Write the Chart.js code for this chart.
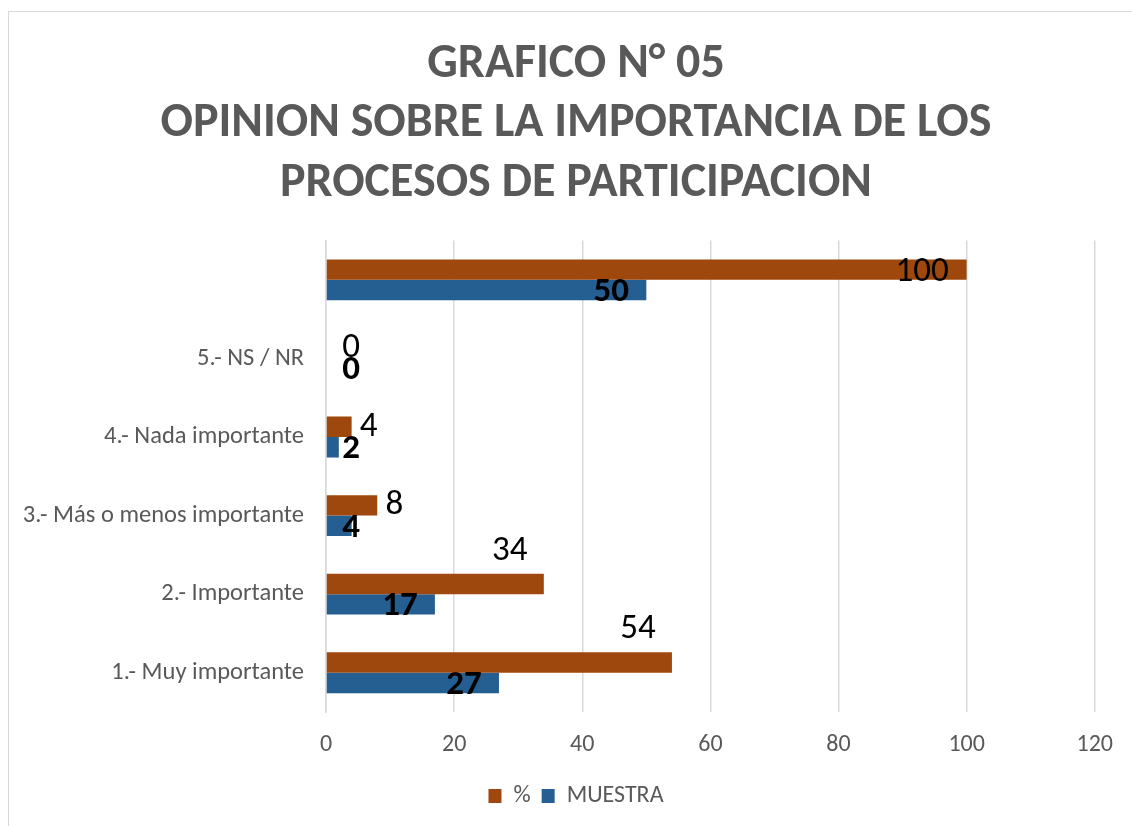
<!DOCTYPE html>
<html>
<head>
<meta charset="utf-8">
<script src="https://cdn.jsdelivr.net/npm/chart.js@4"></script>
<style>
  body { margin: 0; background: #fff; }
  #frame { position: absolute; left: 8px; top: 11px; width: 1140px; height: 830px; border: 1px solid #d9d9d9; }
  #wrap { position: absolute; left: 0; top: 0; width: 1132px; height: 826px; }
</style>
</head>
<body>
<div id="frame"></div>
<div id="wrap"><canvas id="chart"></canvas></div>
<script>
// datos del gráfico
const categorias = ['', '5.- NS / NR', '4.- Nada importante', '3.- Más o menos importante', '2.- Importante', '1.- Muy importante'];
const porcentaje = [100, 0, 4, 8, 34, 54];
const muestra = [50, 0, 2, 4, 17, 27];
const ticksX = [0, 20, 40, 60, 80, 100, 120];

const FONT = 'Carlito, "Liberation Sans Narrow", "DejaVu Sans Condensed", sans-serif';
const GRIS = '#595959';

// etiquetas de datos dibujadas a mano (sin plugin externo)
const etiquetas = {
    id: 'etiquetas',
    afterDatasetsDraw(chart) {
        const ctx = chart.ctx;
        const area = chart.chartArea;
        ctx.save();
        ctx.fillStyle = '#000';
        ctx.textBaseline = 'middle';
        chart.data.datasets.forEach((ds, i) => {
            const meta = chart.getDatasetMeta(i);
            meta.data.forEach((el, j) => {
                const v = ds.data[j];
                const largo = el.x - area.left > 100;
                let x, y;
                ctx.textAlign = 'center';
                if (i === 0) {
                    ctx.font = 'normal 35px ' + FONT;
                    if (!largo) {
                        x = Math.max(el.x + 17, area.left + 25);
                        y = el.y;
                    } else if (el.y - 33 < area.top + 20) {
                        // no cabe encima: dentro del extremo
                        ctx.textAlign = 'right';
                        x = el.x - 18;
                        y = el.y + 3;
                    } else {
                        x = el.x - 34;
                        y = el.y - 33;
                    }
                } else {
                    ctx.font = 'bold 35px ' + FONT;
                    x = largo ? el.x - 35 : area.left + 25;
                    y = el.y + 2;
                }
                ctx.fillText(String(v), x, y);
            });
        });
        ctx.restore();
    }
};

new Chart(document.getElementById('chart'), {
    type: 'bar',
    data: {
        labels: categorias,
        datasets: [
            { label: '%', data: porcentaje, backgroundColor: '#9E480E', categoryPercentage: 0.52, barPercentage: 1.0 },
            { label: 'MUESTRA', data: muestra, backgroundColor: '#255E91', categoryPercentage: 0.52, barPercentage: 1.0 }
        ]
    },
    options: {
        indexAxis: 'y',
        responsive: true,
        maintainAspectRatio: false,
        animation: false,
        layout: { padding: { left: 20, right: 0, top: 0, bottom: 8 } },
        scales: {
            x: {
                min: 0,
                max: 120,
                afterBuildTicks: (scale) => { scale.ticks = ticksX.map(v => ({ value: v })); },
                grid: { color: '#d9d9d9', lineWidth: 1.5, drawTicks: false },
                border: { display: false },
                ticks: { color: GRIS, font: { family: FONT, size: 24 }, padding: 19 },
                afterFit: (scale) => { scale.height = 61; }
            },
            y: {
                grid: { display: false },
                border: { display: true, color: '#d9d9d9', width: 1.5 },
                ticks: { color: GRIS, font: { family: FONT, size: 24.5 }, padding: 14 },
                afterFit: (scale) => { scale.width = 306; }
            },
            // eje vacío a la derecha, solo reserva el margen
            derecha: {
                position: 'right',
                display: true,
                grid: { display: false },
                border: { display: false },
                ticks: { display: false },
                afterFit: (scale) => { scale.width = 36; }
            }
        },
        plugins: {
            title: {
                display: true,
                text: ['GRAFICO N° 05', 'OPINION SOBRE LA IMPORTANCIA DE LOS', 'PROCESOS DE PARTICIPACION'],
                color: GRIS,
                font: { family: FONT, size: 48, weight: 'bold', lineHeight: 1.24 },
                padding: { top: 35, bottom: 27 }
            },
            legend: {
                position: 'bottom',
                labels: {
                    color: GRIS,
                    font: { family: FONT, size: 24 },
                    boxWidth: 13,
                    boxHeight: 14,
                    padding: 11
                }
            },
            tooltip: { enabled: false }
        }
    },
    plugins: [etiquetas]
});
</script>
</body>
</html>
